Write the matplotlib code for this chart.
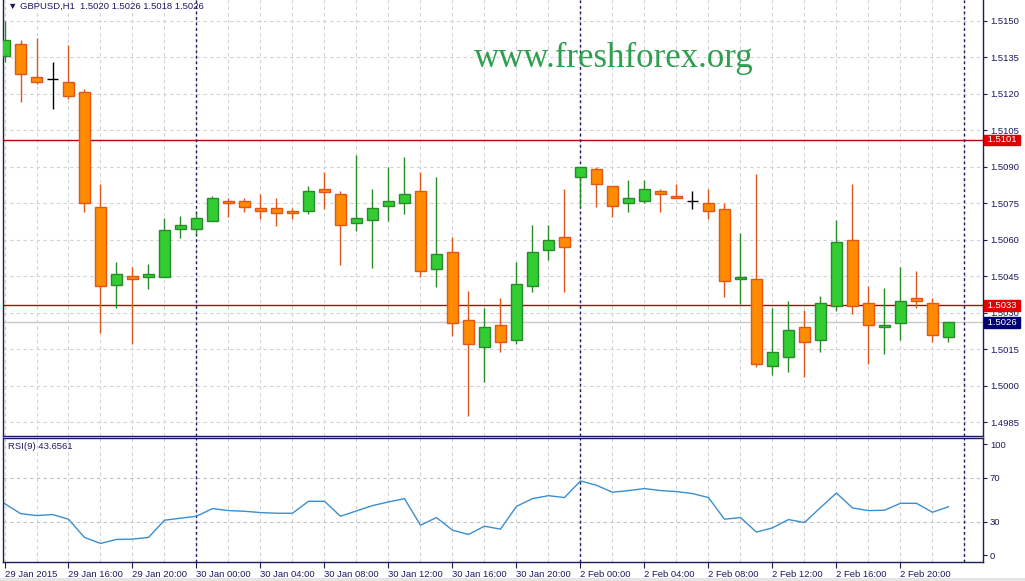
import matplotlib
matplotlib.use('Agg')
import matplotlib.pyplot as plt
from matplotlib.patches import Rectangle

# GBPUSD H1 bars, 29 Jan 2015 12:00 .. 2 Feb 2015 23:00
opens = [1.51356, 1.51404, 1.51267, 1.51259, 1.51246, 1.51208, 1.50735, 1.50415, 1.50449, 1.50448,
         1.50448, 1.50645, 1.50645, 1.50678, 1.50759, 1.50758, 1.50729, 1.50729, 1.50718, 1.50716,
         1.50807, 1.50786, 1.50667, 1.50679, 1.50737, 1.50749, 1.50798, 1.50478, 1.50548, 1.50269,
         1.50158, 1.50248, 1.50187, 1.50408, 1.50556, 1.50610, 1.50856, 1.50889, 1.50819, 1.50749,
         1.50758, 1.50798, 1.50778, 1.50758, 1.50749, 1.50727, 1.50437, 1.50437, 1.50080, 1.50117,
         1.50240, 1.50187, 1.50326, 1.50597, 1.50339, 1.50240, 1.50257, 1.50359, 1.50339, 1.50200]
highs = [1.51498, 1.51420, 1.51427, 1.51328, 1.51399, 1.51217, 1.50829, 1.50507, 1.50489, 1.50500,
         1.50689, 1.50697, 1.50711, 1.50779, 1.50770, 1.50770, 1.50787, 1.50770, 1.50729, 1.50820,
         1.50878, 1.50798, 1.50948, 1.50807, 1.50898, 1.50939, 1.50878, 1.50859, 1.50610, 1.50389,
         1.50320, 1.50362, 1.50507, 1.50660, 1.50660, 1.50808, 1.50897, 1.50897, 1.50819, 1.50847,
         1.50847, 1.50808, 1.50829, 1.50798, 1.50807, 1.50749, 1.50627, 1.50870, 1.50320, 1.50348,
         1.50311, 1.50369, 1.50681, 1.50829, 1.50410, 1.50401, 1.50489, 1.50471, 1.50359, 1.50260]
lows = [1.51330, 1.51167, 1.51239, 1.51138, 1.51176, 1.50715, 1.50218, 1.50318, 1.50170, 1.50399,
        1.50447, 1.50607, 1.50623, 1.50677, 1.50694, 1.50715, 1.50685, 1.50657, 1.50685, 1.50707,
        1.50726, 1.50496, 1.50636, 1.50485, 1.50678, 1.50707, 1.50448, 1.50407, 1.50206, 1.49877,
        1.50017, 1.50137, 1.50170, 1.50386, 1.50516, 1.50386, 1.50733, 1.50735, 1.50694, 1.50715,
        1.50749, 1.50715, 1.50770, 1.50727, 1.50686, 1.50366, 1.50336, 1.50078, 1.50045, 1.50058,
        1.50037, 1.50137, 1.50308, 1.50296, 1.50088, 1.50129, 1.50187, 1.50318, 1.50178, 1.50180]
closes = [1.51420, 1.51279, 1.51246, 1.51259, 1.51189, 1.50749, 1.50410, 1.50458, 1.50437, 1.50458,
          1.50638, 1.50659, 1.50688, 1.50770, 1.50749, 1.50735, 1.50716, 1.50708, 1.50708, 1.50798,
          1.50797, 1.50659, 1.50688, 1.50729, 1.50757, 1.50787, 1.50470, 1.50540, 1.50256, 1.50170,
          1.50240, 1.50178, 1.50417, 1.50548, 1.50597, 1.50569, 1.50897, 1.50827, 1.50737, 1.50770,
          1.50807, 1.50786, 1.50770, 1.50758, 1.50716, 1.50429, 1.50448, 1.50088, 1.50137, 1.50228,
          1.50178, 1.50339, 1.50589, 1.50326, 1.50248, 1.50248, 1.50347, 1.50347, 1.50207, 1.50260]

rsi = [46.6, 37.5, 35.7, 36.6, 32.4, 15.9, 10.5, 14.1, 14.4, 15.9,
       31.5, 33.3, 35.1, 42.0, 40.2, 39.6, 38.4, 37.8, 37.8, 48.6,
       48.6, 35.1, 39.9, 44.7, 48.0, 51.0, 27.0, 33.9, 22.5, 18.6,
       26.1, 23.4, 44.0, 51.0, 53.7, 52.0, 67.0, 63.1, 56.8, 58.3,
       60.1, 58.3, 57.4, 55.6, 52.0, 32.4, 33.9, 20.7, 24.6, 32.1,
       29.4, 42.9, 56.1, 42.6, 40.2, 40.5, 46.8, 46.8, 38.7, 43.6561]

time_labels = ['29 Jan 2015', '29 Jan 16:00', '29 Jan 20:00', '30 Jan 00:00', '30 Jan 04:00',
               '30 Jan 08:00', '30 Jan 12:00', '30 Jan 16:00', '30 Jan 20:00', '2 Feb 00:00',
               '2 Feb 04:00', '2 Feb 08:00', '2 Feb 12:00', '2 Feb 16:00', '2 Feb 20:00']
price_ticks = [1.4985, 1.5000, 1.5015, 1.5030, 1.5045, 1.5060, 1.5075, 1.5090, 1.5105, 1.5120, 1.5135, 1.5150]
rsi_ticks = [0, 30, 70, 100]
rsi_levels = [30, 70]
day_breaks = [12, 36, 60]
red_levels = [1.5101, 1.5033]
bid = 1.5026

NAVY = '#1b1b5e'
GRID = '#d2d2d2'
BULL, BULL_EDGE = '#32cd32', '#2a8a2a'
BEAR, BEAR_EDGE = '#ff8c00', '#e0561a'
FSIZE = 6.8
plt.rcParams['font.family'] = ['Liberation Sans', 'DejaVu Sans']

W, H = 1025, 581
XLIM = (-0.094, 61.16)


def px_rect(left, top, right, bottom):
    return [left / W, 1 - bottom / H, (right - left) / W, (bottom - top) / H]


def style_axis(ax):
    for side in ['left', 'bottom', 'right', 'top']:
        ax.spines[side].set_color(NAVY)
        ax.spines[side].set_linewidth(1)
    ax.yaxis.tick_right()
    ax.tick_params(axis='y', direction='out', length=3, width=0.8, color=NAVY,
                   labelcolor=NAVY, labelsize=FSIZE, pad=2)


def draw_candles(ax):
    width = 0.66
    for i in range(len(opens)):
        o, h, l, c = opens[i], highs[i], lows[i], closes[i]
        if o == c:
            # doji drawn as a black cross
            ax.vlines(i, l, h, color='black', linewidth=1, zorder=3)
            ax.hlines(o, i - width / 2, i + width / 2, color='black', linewidth=1, zorder=3)
            continue
        if c > o:
            fill, edge = BULL, BULL_EDGE
        else:
            fill, edge = BEAR, BEAR_EDGE
        ax.vlines(i, l, h, color=edge, linewidth=1, zorder=3)
        ax.bar(i, abs(c - o), bottom=min(o, c), width=width, color=fill,
               edgecolor=edge, linewidth=1, zorder=4)


def price_box(ax, value, face):
    ax.annotate(' %.4f ' % value, xy=(1, value), xycoords=('axes fraction', 'data'),
                xytext=(1.5, 0), textcoords='offset points', ha='left', va='center',
                fontsize=FSIZE, color='white', zorder=10, annotation_clip=False,
                bbox=dict(boxstyle='square,pad=0.08', fc=face, ec=face))


fig = plt.figure(figsize=(W / 100, H / 100), dpi=100)
fig.patch.set_facecolor('white')

ax = fig.add_axes(px_rect(3, 0, 983, 435.5))
rsi_ax = fig.add_axes(px_rect(3, 437.5, 983, 562))

# price window
style_axis(ax)
ax.spines['top'].set_visible(False)
ax.set_xlim(*XLIM)
ax.set_ylim(1.497957, 1.515842)
ax.set_yticks(price_ticks)
ax.set_yticklabels(['%.4f' % p for p in price_ticks])
ax.set_xticks(range(0, 62, 2))
ax.tick_params(axis='x', length=0, labelbottom=False)
ax.grid(True, color=GRID, linestyle=(0, (3, 3)), linewidth=0.8)
ax.set_axisbelow(True)

for lvl in red_levels:
    ax.axhline(lvl, color='#c00000', linewidth=1, zorder=2)
ax.axhline(bid, color='#c8c8c8', linewidth=1, zorder=2)
for d in day_breaks:
    ax.axvline(d, color=NAVY, linestyle=(0, (2, 2)), linewidth=1, zorder=2)

draw_candles(ax)

price_box(ax, red_levels[0], '#e00000')
price_box(ax, red_levels[1], '#e00000')
price_box(ax, bid, '#000070')

fig.text(8 / W, 1 - 6 / H, '\u25bc GBPUSD,H1  %.4f %.4f %.4f %.4f' % (opens[-1], highs[-1], lows[-1], closes[-1]),
         fontsize=FSIZE, color=NAVY, va='center', ha='left')
fig.text(614 / W, 1 - 67 / H, 'www.freshforex.org', family='Liberation Serif', fontsize=25,
         color='#2e9e4f', ha='center', va='baseline')

# RSI window
style_axis(rsi_ax)
rsi_ax.set_xlim(*XLIM)
rsi_ax.set_ylim(-6.3, 106.3)
rsi_ax.set_yticks(rsi_ticks)
rsi_ax.set_yticklabels([str(v) for v in rsi_ticks])
rsi_ax.set_xticks(range(0, 60, 4))
rsi_ax.set_xticklabels(time_labels)
rsi_ax.set_xticks(range(0, 62, 2), minor=True)
rsi_ax.tick_params(axis='x', which='major', direction='out', length=4, width=0.8, color=NAVY,
                   labelcolor=NAVY, labelsize=FSIZE, pad=2)
rsi_ax.tick_params(axis='x', which='minor', length=0)
for lbl in rsi_ax.get_xticklabels():
    lbl.set_ha('left')
rsi_ax.grid(True, axis='x', which='both', color=GRID, linestyle=(0, (3, 3)), linewidth=0.8)
for lvl in rsi_levels:
    rsi_ax.axhline(lvl, color='#c0c0c0', linestyle=(0, (3, 3)), linewidth=0.8)
for d in day_breaks:
    rsi_ax.axvline(d, color=NAVY, linestyle=(0, (2, 2)), linewidth=1)
rsi_ax.set_axisbelow(True)
rsi_ax.plot(range(len(rsi)), rsi, color='#3a8fd0', linewidth=1)
rsi_ax.text(5 / 980, 1 - 9 / 125, 'RSI(9) %.4f' % rsi[-1], transform=rsi_ax.transAxes,
            fontsize=FSIZE, color=NAVY, ha='left', va='center')

fig.patches.append(Rectangle((0, 0), 1, 3 / H, transform=fig.transFigure,
                             facecolor='#e4e4e4', edgecolor='none'))

fig.savefig('out.png', dpi=100)
